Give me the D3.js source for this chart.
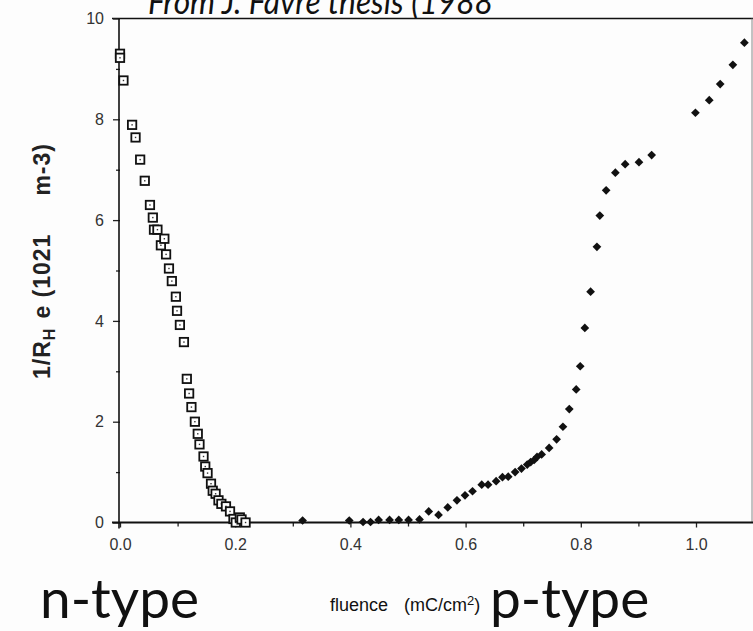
<!DOCTYPE html>
<html>
<head>
<meta charset="utf-8">
<script src="https://d3js.org/d3.v7.min.js"></script>
<style>
  body { margin: 0; background: #fff; }
  svg { display: block; }
</style>
</head>
<body>
<script>
// Define SVG area dimensions
var svgWidth = 753;
var svgHeight = 631;

// n-type points (open squares): fluence (mC/cm2) and 1/RH e (1e21 m-3)
var nFluence = [0.000, 0.000, 0.006, 0.021, 0.027, 0.035, 0.043, 0.052, 0.057, 0.059, 0.065,
  0.071, 0.077, 0.080, 0.085, 0.090, 0.097, 0.099, 0.104, 0.111, 0.116, 0.120, 0.124,
  0.130, 0.135, 0.138, 0.145, 0.148, 0.152, 0.158, 0.161, 0.166, 0.171, 0.176, 0.184,
  0.191, 0.197, 0.201, 0.208, 0.211, 0.218];
var nDensity = [9.30, 9.22, 8.77, 7.89, 7.64, 7.20, 6.78, 6.30, 6.05, 5.81, 5.81,
  5.50, 5.63, 5.32, 5.04, 4.79, 4.48, 4.20, 3.92, 3.58, 2.85, 2.56, 2.29,
  2.00, 1.76, 1.55, 1.31, 1.11, 0.98, 0.77, 0.63, 0.57, 0.44, 0.37, 0.32,
  0.22, 0.07, 0.00, 0.10, 0.06, 0.00];

// p-type points (filled diamonds)
var pFluence = [0.317, 0.398, 0.422, 0.435, 0.449, 0.468, 0.484, 0.501, 0.520, 0.536,
  0.553, 0.569, 0.585, 0.599, 0.612, 0.628, 0.639, 0.653, 0.664, 0.674, 0.686, 0.697,
  0.707, 0.713, 0.719, 0.724, 0.732, 0.745, 0.758, 0.769, 0.780, 0.792, 0.799, 0.807,
  0.817, 0.828, 0.833, 0.844, 0.860, 0.877, 0.901, 0.923, 0.999, 1.023, 1.042, 1.064, 1.084];
var pDensity = [0.04, 0.04, 0.01, 0.01, 0.05, 0.05, 0.05, 0.05, 0.06, 0.22,
  0.15, 0.30, 0.44, 0.54, 0.62, 0.75, 0.75, 0.82, 0.90, 0.91, 1.00, 1.07,
  1.15, 1.20, 1.24, 1.30, 1.35, 1.48, 1.65, 1.90, 2.25, 2.64, 3.10, 3.86,
  4.58, 5.47, 6.09, 6.59, 6.94, 7.11, 7.15, 7.29, 8.13, 8.38, 8.70, 9.08, 9.52];

// tick values
var xMajorTicks = [0, 0.2, 0.4, 0.6, 0.8, 1.0];
var xMinorTicks = [0.1, 0.3, 0.5, 0.7, 0.9, 1.1];
var yMajorTicks = [0, 2, 4, 6, 8, 10];
var yMinorTicks = [1, 3, 5, 7, 9];

var svg = d3.select("body")
  .append("svg")
  .attr("width", svgWidth)
  .attr("height", svgHeight);

svg.append("rect")
  .attr("width", svgWidth)
  .attr("height", svgHeight)
  .attr("fill", "#fdfdfd");

// scales
var xScale = d3.scaleLinear()
  .domain([0, 1.1])
  .range([120, 753.6]);

var yScale = d3.scaleLinear()
  .domain([0, 10])
  .range([522.5, 18.5]);

// title (cut off at the top of the picture)
svg.append("text")
  .attr("x", 148)
  .attr("y", 14)
  .attr("font-family", "Lato")
  .attr("font-style", "italic")
  .attr("font-size", 34)
  .attr("textLength", 345)
  .attr("lengthAdjust", "spacingAndGlyphs")
  .attr("fill", "#111")
  .text("From J. Favre thesis (1988");

// frame: top and right lines
svg.append("line")
  .attr("x1", 112).attr("x2", 753)
  .attr("y1", yScale(10)).attr("y2", yScale(10))
  .attr("stroke", "#111").attr("stroke-width", 1.6);

svg.append("line")
  .attr("x1", 752).attr("x2", 752)
  .attr("y1", yScale(10)).attr("y2", yScale(0))
  .attr("stroke", "#888").attr("stroke-width", 1);

// y axis, major + minor ticks
svg.append("g")
  .attr("transform", "translate(120,0)")
  .call(d3.axisLeft(yScale).tickValues(yMajorTicks).tickSize(7).tickPadding(9).tickFormat(d3.format("d")));

svg.append("g")
  .attr("transform", "translate(120,0)")
  .call(d3.axisLeft(yScale).tickValues(yMinorTicks).tickSize(4).tickFormat(""));

// x axis, major + minor ticks
svg.append("g")
  .attr("transform", `translate(0,${yScale(0)})`)
  .call(d3.axisBottom(xScale).tickValues(xMajorTicks).tickSize(5).tickPadding(11).tickFormat(d3.format(".1f")));

svg.append("g")
  .attr("transform", `translate(0,${yScale(0)})`)
  .call(d3.axisBottom(xScale).tickValues(xMinorTicks).tickSize(4).tickFormat(""));

svg.selectAll(".domain").remove();

// axis lines drawn by hand so they run past the ticks like the scan
svg.append("line")
  .attr("x1", 112).attr("x2", 753)
  .attr("y1", yScale(0)).attr("y2", yScale(0))
  .attr("stroke", "#111").attr("stroke-width", 2);

svg.append("line")
  .attr("x1", 119).attr("x2", 119)
  .attr("y1", yScale(10)).attr("y2", yScale(0) + 6)
  .attr("stroke", "#111").attr("stroke-width", 1.6);

svg.selectAll(".tick line")
  .attr("stroke", "#222")
  .attr("stroke-width", 1.3);

svg.selectAll(".tick text")
  .attr("font-family", "Liberation Sans, Arial, sans-serif")
  .attr("font-size", 16)
  .attr("fill", "#333");

// y axis title: 1/RH e (1021   m-3)
var yTitle = svg.append("text")
  .attr("transform", "translate(50,261) rotate(-90)")
  .attr("text-anchor", "middle")
  .attr("font-family", "Liberation Sans, Arial, sans-serif")
  .attr("font-weight", "bold")
  .attr("font-size", 23)
  .attr("letter-spacing", 1)
  .attr("fill", "#222");
yTitle.append("tspan").text("1/R");
yTitle.append("tspan").attr("font-size", 16).attr("dy", 5).text("H");
yTitle.append("tspan").attr("dy", -5).attr("dx", 9).text("e (1021");
yTitle.append("tspan").attr("dx", 38).text("m-3)");

// x axis title
var xTitle = svg.append("text")
  .attr("x", 330)
  .attr("y", 611)
  .attr("font-family", "Liberation Sans, Arial, sans-serif")
  .attr("font-size", 18)
  .attr("fill", "#111");
xTitle.append("tspan").text("fluence");
xTitle.append("tspan").attr("dx", 16).text("(mC/cm");
xTitle.append("tspan").attr("font-size", 13).attr("dy", -6).text("2");
xTitle.append("tspan").attr("dy", 6).text(")");

// n-type / p-type labels
svg.append("text")
  .attr("x", 40)
  .attr("y", 618)
  .attr("font-family", "Lato")
  .attr("font-size", 55)
  .attr("fill", "#111")
  .text("n-type");

svg.append("text")
  .attr("x", 490)
  .attr("y", 618)
  .attr("font-family", "Lato")
  .attr("font-size", 55)
  .attr("fill", "#111")
  .text("p-type");

// n-type open squares with a center dot
var nData = nFluence.map((f, i) => ({ f: f, v: nDensity[i] }));
var squares = svg.append("g").selectAll("g")
  .data(nData)
  .enter()
  .append("g")
  .attr("transform", d => `translate(${xScale(d.f)},${yScale(d.v)})`);

squares.append("rect")
  .attr("x", -4.2).attr("y", -4.2)
  .attr("width", 8.4).attr("height", 8.4)
  .attr("fill", "#fff")
  .attr("stroke", "#111")
  .attr("stroke-width", 1.8);

squares.append("rect")
  .attr("x", -0.7).attr("y", -0.7)
  .attr("width", 1.4).attr("height", 1.4)
  .attr("fill", "#333");

// p-type filled diamonds
var pData = pFluence.map((f, i) => ({ f: f, v: pDensity[i] }));
var diamond = d3.symbol().type(d3.symbolSquare).size(38);
svg.append("g").selectAll("path")
  .data(pData)
  .enter()
  .append("path")
  .attr("d", diamond)
  .attr("transform", d => `translate(${xScale(d.f)},${yScale(d.v)}) rotate(45)`)
  .attr("fill", "#111");
</script>
</body>
</html>
